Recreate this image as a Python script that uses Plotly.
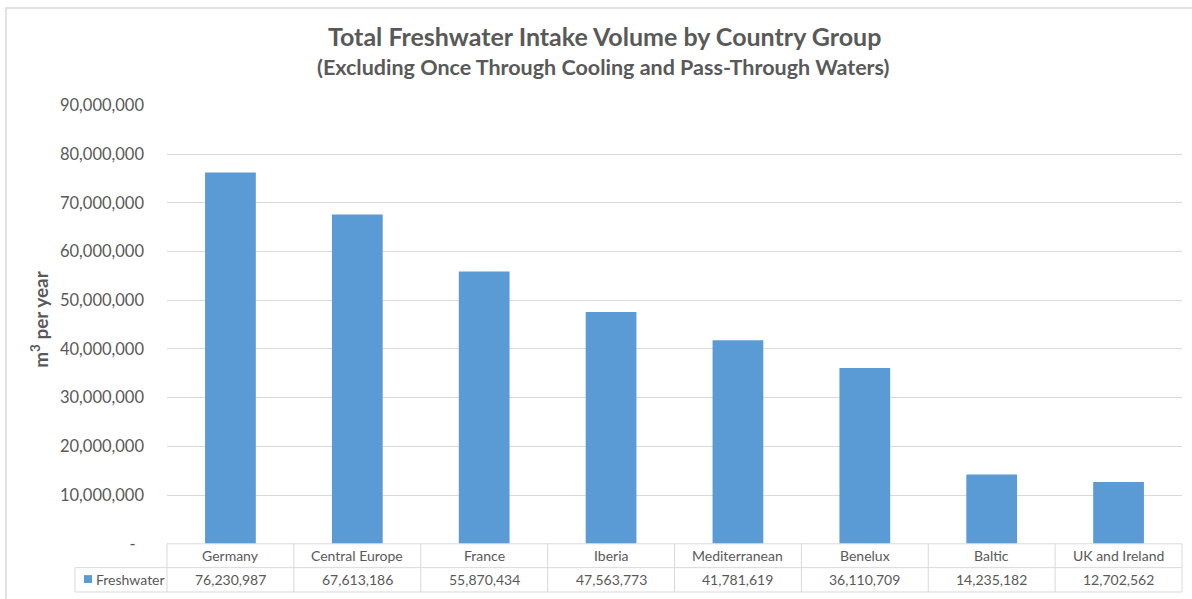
import plotly.graph_objects as go

categories = ["Germany", "Central Europe", "France", "Iberia", "Mediterranean",
              "Benelux", "Baltic", "UK and Ireland"]
freshwater = [76230987, 67613186, 55870434, 47563773, 41781619, 36110709, 14235182, 12702562]
y_ticks = [0, 10000000, 20000000, 30000000, 40000000, 50000000, 60000000, 70000000, 80000000, 90000000]
y_ticktext = ["-\u00a0\u00a0"] + [f"{v:,}" for v in y_ticks[1:]]
series_name = "Freshwater"

W, H = 1192, 599
FONT = "Lato"
GREY = "#595959"
LINE = "#d9d9d9"
BAR = "#5B9BD5"

# the page is drawn 8 px down from the top with 583 px of usable height
OY, HH = 8, 583

def px(x):
    return x / W

def py(y):
    return 1 - (y - OY) / HH

x0, x1 = 167, 1182
y_top, y_base = 104, 545.5

fig = go.Figure()
fig.add_trace(go.Bar(x=list(range(len(categories))), y=freshwater, marker_color=BAR,
                     marker_line_width=0, name=series_name, showlegend=False))

fig.update_layout(
    width=W, height=H,
    margin=dict(l=0, r=0, t=0, b=0),
    paper_bgcolor="white", plot_bgcolor="white",
    bargap=0.6,
    font=dict(family=FONT, color=GREY),
    xaxis=dict(domain=[px(x0), px(x1)], range=[-0.5, len(categories) - 0.5],
               showticklabels=False, showgrid=False, zeroline=False, showline=False,
               ticks=""),
    yaxis=dict(domain=[py(y_base), py(y_top)], range=[0, 90000000],
               tickvals=y_ticks, ticktext=y_ticktext, showgrid=True, gridcolor=LINE,
               gridwidth=1, zeroline=False, showline=False, ticks="",
               tickfont=dict(family=FONT, size=16.5, color=GREY), ticklabelstandoff=22),
)

shapes = []
shapes.append(dict(type="rect", xref="paper", yref="paper", x0=px(6), x1=px(1230),
                   y0=py(640), y1=py(6), line=dict(color="#d9d9d9", width=1.5)))
row_top, row_mid, row_bot = 545.5, 569.5, 594
legend_left = 75
shapes.append(dict(type="line", xref="paper", yref="paper", x0=px(x0), x1=px(x1),
                   y0=py(row_top), y1=py(row_top), line=dict(color=LINE, width=1)))
for yy in (row_mid, row_bot):
    shapes.append(dict(type="line", xref="paper", yref="paper", x0=px(legend_left), x1=px(x1),
                       y0=py(yy), y1=py(yy), line=dict(color=LINE, width=1)))
shapes.append(dict(type="line", xref="paper", yref="paper", x0=px(legend_left), x1=px(legend_left),
                   y0=py(row_mid), y1=py(row_bot), line=dict(color=LINE, width=1)))
n = len(categories)
colw = (x1 - x0) / n
for i in range(n + 1):
    xx = x0 + i * colw
    shapes.append(dict(type="line", xref="paper", yref="paper", x0=px(xx), x1=px(xx),
                       y0=py(row_top), y1=py(row_bot), line=dict(color=LINE, width=1)))
shapes.append(dict(type="rect", xref="paper", yref="paper", x0=px(84), x1=px(92),
                   y0=py(585), y1=py(577), fillcolor=BAR, line=dict(width=0)))

annotations = []
for i, (c, v) in enumerate(zip(categories, freshwater)):
    annotations.append(dict(x=i, xref="x", y=py((row_top + row_mid) / 2), yref="paper",
                            text=c, showarrow=False, font=dict(family=FONT, size=14, color=GREY),
                            xanchor="center", yanchor="middle"))
    annotations.append(dict(x=i, xref="x", y=py((row_mid + row_bot) / 2), yref="paper",
                            text=f"{v:,}", showarrow=False, font=dict(family=FONT, size=14, color=GREY),
                            xanchor="center", yanchor="middle"))
annotations.append(dict(x=px(94), xref="paper", y=py((row_mid + row_bot) / 2), yref="paper",
                        text=series_name, showarrow=False, font=dict(family=FONT, size=14, color=GREY),
                        xanchor="left", yanchor="middle"))
annotations.append(dict(x=px(604), xref="paper", y=py(34), yref="paper",
                        text="<b>Total Freshwater Intake Volume by Country Group</b>",
                        showarrow=False, font=dict(family=FONT, size=25, color=GREY),
                        xanchor="center", yanchor="middle"))
annotations.append(dict(x=px(603), xref="paper", y=py(65.5), yref="paper",
                        text="<b>(Excluding Once Through Cooling and Pass-Through Waters)</b>",
                        showarrow=False, font=dict(family=FONT, size=21.5, color=GREY),
                        xanchor="center", yanchor="middle"))
annotations.append(dict(x=px(40), xref="paper", y=py(319), yref="paper",
                        text="<b>m<sup>3</sup> per year</b>", textangle=-90,
                        showarrow=False, font=dict(family=FONT, size=19, color=GREY),
                        xanchor="center", yanchor="middle"))

fig.update_layout(shapes=shapes, annotations=annotations)
fig.write_html("out.html")
